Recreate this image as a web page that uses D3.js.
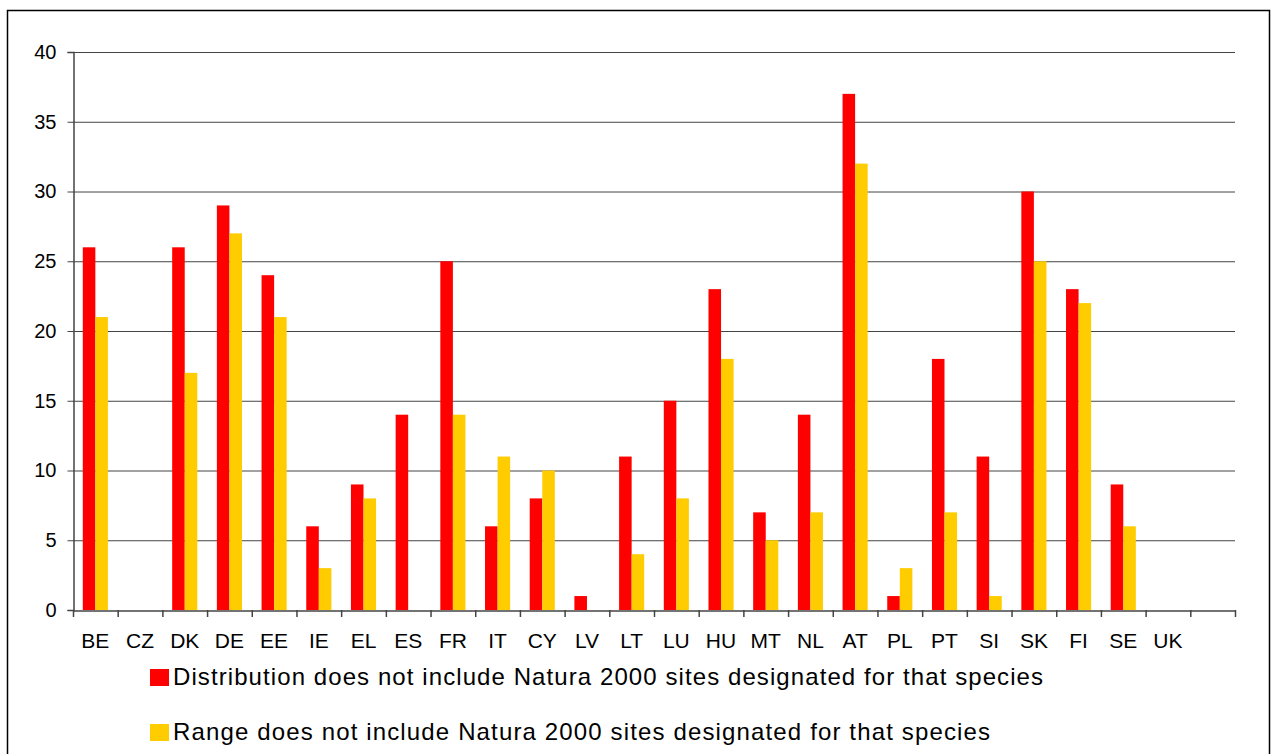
<!DOCTYPE html>
<html><head><meta charset="utf-8">
<script src="https://cdn.jsdelivr.net/npm/d3@7"></script>
<style>body{margin:0;background:#fff}svg{display:block}</style>
</head><body>
<svg id="c" width="1274" height="754"></svg>
<script>
const categories = ["BE","CZ","DK","DE","EE","IE","EL","ES","FR","IT","CY","LV","LT","LU","HU","MT","NL","AT","PL","PT","SI","SK","FI","SE","UK",""];
const distribution = [26,0,26,29,24,6,9,14,25,6,8,1,11,15,23,7,14,37,1,18,11,30,23,9,0,0];
const range = [21,0,17,27,21,3,8,0,14,11,10,0,4,8,18,5,7,32,3,7,1,25,22,6,0,0];
const yTicks = [0,5,10,15,20,25,30,35,40];
const seriesNames = ["Distribution does not include Natura 2000 sites designated for that species",
                     "Range does not include Natura 2000 sites designated for that species"];
const colors = ["#ff0000","#ffcc00"];

const svg = d3.select("#c");
const L = 73, R = 1235, T = 52, B = 610;
const font = "Liberation Sans, Arial, sans-serif";

svg.append("rect").attr("x",7.5).attr("y",10.5).attr("width",1262).attr("height",760)
  .attr("fill","none").attr("stroke","#000").attr("stroke-width",1.5);

const x = d3.scaleBand().domain(categories.map((d,i)=>i)).range([L,R]).paddingInner(0).paddingOuter(0);
const y = d3.scaleLinear().domain([0,40]).range([B,T]);
const inner = d3.scaleBand().domain([0,1]).range([0, x.bandwidth()]).paddingInner(0).paddingOuter(0.78);

// gridlines
svg.append("g").selectAll("line").data(yTicks.filter(d=>d>0)).join("line")
  .attr("x1",L).attr("x2",R).attr("y1",d=>y(d)+0.5).attr("y2",d=>y(d)+0.5)
  .attr("stroke","#444").attr("stroke-width",1);

// bars
const series = [distribution, range];
series.forEach((vals, s) => {
  svg.append("g").selectAll("rect").data(vals).join("rect")
    .attr("x",(d,i)=>x(i)+inner(s))
    .attr("width",inner.bandwidth())
    .attr("y",d=>y(d))
    .attr("height",d=>y(0)-y(d))
    .attr("fill",colors[s]);
});

// y axis
const yAxis = svg.append("g").attr("transform",`translate(${L+0.5},0)`)
  .call(d3.axisLeft(y).tickValues(yTicks).tickSize(6).tickPadding(11).tickFormat(d3.format("d")));
yAxis.select(".domain").attr("stroke","#444").attr("stroke-width",1.5);
yAxis.selectAll(".tick line").attr("stroke","#444");
yAxis.selectAll("text").attr("font-family",font).attr("font-size",20).attr("fill","#000");

// x axis
const xAxis = svg.append("g").attr("transform",`translate(0,${B+0.5})`)
  .call(d3.axisBottom(x).tickFormat(i=>categories[i]).tickSize(0).tickPadding(23));
xAxis.select(".domain").attr("stroke","#444").attr("stroke-width",1.5);
xAxis.selectAll("text").attr("font-family",font).attr("font-size",21).attr("fill","#000");
// boundary tick marks
const bounds = d3.range(categories.length+1).map(i=>L + i*x.bandwidth());
svg.append("g").selectAll("line").data(bounds).join("line")
  .attr("x1",d=>d+0.5).attr("x2",d=>d+0.5).attr("y1",B).attr("y2",B+7)
  .attr("stroke","#444").attr("stroke-width",1.5);

// legend
const leg = svg.append("g");
const legY = [669, 724];
const legLen = [870, 817];
seriesNames.forEach((n,s)=>{
  leg.append("rect").attr("x",150).attr("y",legY[s]).attr("width",19).attr("height",17).attr("fill",colors[s]);
  leg.append("text").attr("x",173).attr("y",legY[s]+16).attr("font-family",font).attr("font-size",24)
    .attr("textLength",legLen[s]).attr("lengthAdjust","spacing")
    .attr("fill","#000").text(n);
});
</script>
</body></html>
